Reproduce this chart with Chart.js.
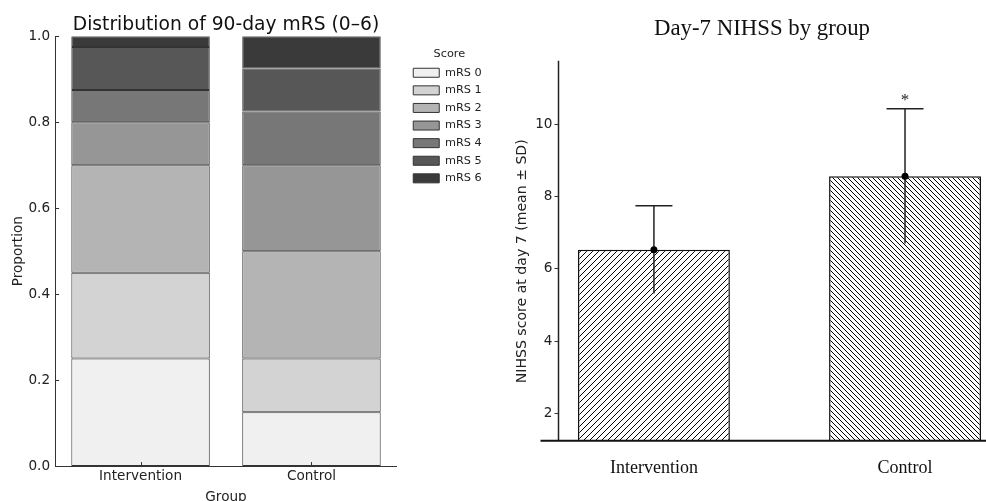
<!DOCTYPE html>
<html>
<head>
<meta charset="utf-8">
<script src="https://cdn.jsdelivr.net/npm/chart.js@4.4.1/dist/chart.umd.min.js"></script>
<style>
    html, body { margin: 0; padding: 0; background: #fff; overflow: hidden; width: 986px; height: 501px; }
    #left { position: absolute; left: 0; top: 0; }
    #right { position: absolute; left: 490px; top: 0; }
</style>
</head>
<body>
<canvas id="left" width="490" height="501"></canvas>
<canvas id="right" width="544" height="501"></canvas>
<script>
    // left panel - 90 day mRS distribution
    var groups = ['Intervention', 'Control'];
    var scoreLabels = ['mRS 0', 'mRS 1', 'mRS 2', 'mRS 3', 'mRS 4', 'mRS 5', 'mRS 6'];
    var interventionProps = [0.25, 0.20, 0.25, 0.10, 0.075, 0.10, 0.025];
    var controlProps = [0.125, 0.125, 0.25, 0.20, 0.125, 0.10, 0.075];
    var grayShades = ['#f0f0f0', '#d3d3d3', '#b4b4b4', '#969696', '#777777', '#575757', '#3a3a3a'];
    var proportionTicks = [0, 0.2, 0.4, 0.6, 0.8, 1.0];

    // right panel - day 7 NIHSS
    var nihssMeans = [6.53, 8.56];
    var nihssSD = [1.21, 1.86];
    var sigMarks = ['', '*'];
    var nihssTicks = [2, 4, 6, 8, 10];

    Chart.defaults.font.family = 'DejaVu Sans';
    Chart.defaults.color = '#222';

    var sansFont = { family: 'DejaVu Sans', size: 13.6, lineHeight: 1.1 };
    var serifFont = { family: 'Liberation Serif', size: 18, lineHeight: 1.2 };

    function makeHatch(step, forward) {
        var c = document.createElement('canvas');
        c.width = step;
        c.height = step;
        var g = c.getContext('2d');
        g.fillStyle = '#fff';
        g.fillRect(0, 0, step, step);
        g.strokeStyle = '#000';
        g.lineWidth = 1;
        g.beginPath();
        for (var k = -1; k <= 1; k++) {
            if (forward) {
                g.moveTo(k * step, step);
                g.lineTo(k * step + step, 0);
            } else {
                g.moveTo(k * step, 0);
                g.lineTo(k * step + step, step);
            }
        }
        g.stroke();
        return g.createPattern(c, 'repeat');
    }

    //  matplotlib style ticks pointing into the plot
    var inwardTicks = {
        id: 'inwardTicks',
        afterDraw: function (chart) {
            var ctx = chart.ctx, area = chart.chartArea;
            var x = chart.scales.x, y = chart.scales.y;
            ctx.save();
            ctx.strokeStyle = '#333';
            ctx.lineWidth = 1;
            ctx.beginPath();
            proportionTicks.forEach(function (v) {
                var py = Math.round(y.getPixelForValue(v)) + 0.5;
                ctx.moveTo(area.left, py);
                ctx.lineTo(area.left + 4, py);
            });
            groups.forEach(function (g, i) {
                var px = Math.round(x.getPixelForValue(i)) + 0.5;
                ctx.moveTo(px, area.bottom);
                ctx.lineTo(px, area.bottom - 4);
            });
            ctx.stroke();
            ctx.restore();
        }
    };

    var legendNudge = {
        id: 'legendNudge',
        afterLayout: function (chart) {
            chart.legend.left += 10;
            chart.legend.right += 10;
        }
    };

    var errorBars = {
        id: 'errorBars',
        afterDatasetDraw: function (chart, args) {
            if (args.index !== 0) return;
            var ctx = chart.ctx, x = chart.scales.x, y = chart.scales.y;
            ctx.save();
            ctx.strokeStyle = '#222';
            ctx.lineWidth = 1.5;
            ctx.fillStyle = '#222';
            ctx.font = '17px "Liberation Serif"';
            ctx.textAlign = 'center';
            ctx.textBaseline = 'alphabetic';
            nihssMeans.forEach(function (m, i) {
                var px = x.getPixelForValue(i);
                var top = y.getPixelForValue(m + nihssSD[i]);
                var bottom = y.getPixelForValue(m - nihssSD[i]);
                ctx.beginPath();
                ctx.moveTo(px, bottom);
                ctx.lineTo(px, top);
                ctx.moveTo(px - 18.5, top);
                ctx.lineTo(px + 18.5, top);
                ctx.stroke();
                if (sigMarks[i]) {
                    ctx.fillText(sigMarks[i], px, top - 4);
                }
            });
            ctx.restore();
        }
    };

    // axis lines of the right panel (bottom one runs a bit past the y axis)
    var axisLines = {
        id: 'axisLines',
        afterDatasetsDraw: function (chart) {
            var ctx = chart.ctx, area = chart.chartArea;
            ctx.save();
            ctx.strokeStyle = '#222';
            ctx.lineWidth = 1.5;
            ctx.beginPath();
            ctx.moveTo(area.left, area.top);
            ctx.lineTo(area.left, area.bottom);
            ctx.stroke();
            ctx.strokeStyle = '#111';
            ctx.lineWidth = 2;
            ctx.beginPath();
            ctx.moveTo(area.left - 18, area.bottom);
            ctx.lineTo(area.right, area.bottom);
            ctx.stroke();
            ctx.restore();
        }
    };

    new Chart(document.getElementById('left'), {
        type: 'bar',
        data: {
            labels: groups,
            datasets: scoreLabels.map(function (s, i) {
                return {
                    label: s,
                    data: [interventionProps[i], controlProps[i]],
                    backgroundColor: grayShades[i],
                    borderColor: '#333',
                    borderWidth: 1,
                    borderSkipped: false,
                    barPercentage: 0.81,
                    categoryPercentage: 1
                };
            })
        },
        options: {
            responsive: false,
            animation: false,
            layout: { padding: { left: 3, right: 8.3, top: 0, bottom: -3.5 } },
            plugins: {
                tooltip: { enabled: false },
                title: {
                    display: true,
                    fullSize: false,
                    text: 'Distribution of 90-day mRS (0\u20136)',
                    color: '#111',
                    font: { family: 'DejaVu Sans', size: 18.7, weight: 'normal', lineHeight: 1.2 },
                    padding: { top: 13.8, bottom: 0 }
                },
                legend: {
                    position: 'right',
                    align: 'start',
                    fullSize: false,
                    title: {
                        display: true,
                        text: 'Score',
                        color: '#222',
                        font: { family: 'DejaVu Sans', size: 11.3 },
                        padding: { top: 12.5, bottom: -1.5 }
                    },
                    labels: {
                        boxWidth: 26,
                        boxHeight: 9,
                        padding: 6.3,
                        color: '#222',
                        font: { family: 'DejaVu Sans', size: 11.3 }
                    }
                }
            },
            scales: {
                x: {
                    stacked: true,
                    grid: { display: false, drawTicks: false },
                    border: { display: true, color: '#333', width: 1 },
                    ticks: { font: sansFont, color: '#222', padding: 3 },
                    title: { display: true, text: 'Group', font: sansFont, color: '#222', padding: { top: 2.5, bottom: 0 } }
                },
                y: {
                    stacked: true,
                    min: 0,
                    max: 1,
                    grid: { display: false, drawTicks: false },
                    border: { display: true, color: '#333', width: 1 },
                    afterBuildTicks: function (scale) {
                        scale.ticks = proportionTicks.map(function (v) { return { value: v }; });
                    },
                    ticks: {
                        font: sansFont,
                        color: '#222',
                        padding: 5,
                        callback: function (v) { return v.toFixed(1); }
                    },
                    title: { display: true, text: 'Proportion', font: sansFont, color: '#222', padding: { top: 8, bottom: -2.5 } }
                }
            }
        },
        plugins: [inwardTicks, legendNudge]
    });

    var points = nihssMeans.map(function (m, i) { return { x: i, y: m }; });

    new Chart(document.getElementById('right'), {
        type: 'bar',
        data: {
            datasets: [
                {
                    type: 'bar',
                    order: 2,
                    data: points,
                    backgroundColor: [makeHatch(6, true), makeHatch(5, false)],
                    borderColor: '#111',
                    borderWidth: 1.5,
                    barPercentage: 0.605,
                    categoryPercentage: 1
                },
                {
                    type: 'scatter',
                    order: 1,
                    data: points,
                    pointRadius: 3.5,
                    pointBackgroundColor: '#000',
                    pointBorderWidth: 0,
                    showLine: false
                }
            ]
        },
        options: {
            responsive: false,
            animation: false,
            layout: { padding: { left: 20, right: 20, top: 0, bottom: 6.2 } },
            plugins: {
                legend: { display: false },
                tooltip: { enabled: false },
                title: {
                    display: true,
                    text: 'Day-7 NIHSS by group',
                    color: '#111',
                    font: { family: 'Liberation Serif', size: 22.8, weight: 'normal', lineHeight: 1.2 },
                    padding: { top: 15.3, bottom: 18 }
                }
            },
            scales: {
                x: {
                    type: 'linear',
                    min: -0.38,
                    max: 1.434,
                    offset: false,
                    grid: { display: false, drawTicks: false, offset: false },
                    border: { display: false },
                    afterBuildTicks: function (scale) {
                        scale.ticks = groups.map(function (g, i) { return { value: i }; });
                    },
                    ticks: {
                        font: serifFont,
                        color: '#111',
                        padding: 16.2,
                        autoSkip: false,
                        maxRotation: 0,
                        callback: function (v) { return groups[v]; }
                    }
                },
                y: {
                    min: 1.25,
                    max: 11.75,
                    grid: { drawOnChartArea: false, tickLength: 4, color: '#333' },
                    border: { display: false },
                    afterBuildTicks: function (scale) {
                        scale.ticks = nihssTicks.map(function (v) { return { value: v }; });
                    },
                    ticks: { font: sansFont, color: '#222', padding: 2 },
                    title: {
                        display: true,
                        // trailing en spaces push the label a little lower, as in the figure
                        text: 'NIHSS score at day 7 (mean \u00b1 SD)\u2002\u2002\u2002',
                        font: { family: 'DejaVu Sans', size: 14.1, lineHeight: 1.1 },
                        color: '#222',
                        padding: { top: 4.7, bottom: 3 }
                    }
                }
            }
        },
        plugins: [errorBars, axisLines]
    });
</script>
</body>
</html>
